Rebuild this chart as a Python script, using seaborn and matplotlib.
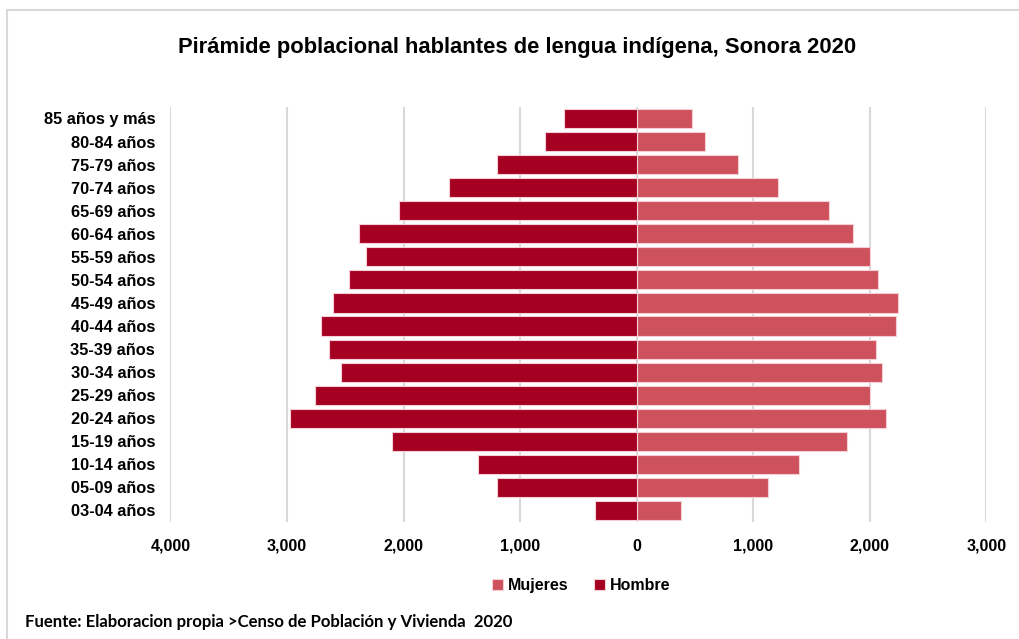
import pandas as pd
import matplotlib.pyplot as plt
import seaborn as sns
from matplotlib.lines import Line2D
from matplotlib.ticker import FuncFormatter

edades = ['85 años y más', '80-84 años', '75-79 años', '70-74 años', '65-69 años',
          '60-64 años', '55-59 años', '50-54 años', '45-49 años', '40-44 años',
          '35-39 años', '30-34 años', '25-29 años', '20-24 años', '15-19 años',
          '10-14 años', '05-09 años', '03-04 años']
hombre = [620, 785, 1197, 1607, 2041, 2382, 2322, 2465, 2603, 2708,
          2639, 2534, 2760, 2972, 2101, 1358, 1197, 362]
mujeres = [474, 588, 865, 1212, 1650, 1858, 2004, 2070, 2245, 2222,
           2056, 2101, 1998, 2139, 1807, 1395, 1123, 376]

df = pd.concat([
    pd.DataFrame({'edad': edades, 'valor': mujeres, 'sexo': 'Mujeres'}),
    pd.DataFrame({'edad': edades, 'valor': [-v for v in hombre], 'sexo': 'Hombre'}),
])

sns.set_style('white')
plt.rcParams['font.family'] = ['Liberation Sans', 'DejaVu Sans']
plt.rcParams['text.color'] = 'black'
plt.rcParams['xtick.color'] = 'black'
plt.rcParams['ytick.color'] = 'black'

fig = plt.figure(figsize=(10.19, 6.39), dpi=100)
ax = fig.add_axes([0.1673, 0.1831, 0.8008, 0.6495])

sns.barplot(data=df, y='edad', x='valor', hue='sexo', order=edades,
            hue_order=['Mujeres', 'Hombre'], dodge=False, orient='h',
            palette={'Mujeres': '#CD525D', 'Hombre': '#A50021'}, saturation=1,
            width=0.83, edgecolor='#F4D0D4', linewidth=0.8, ax=ax, zorder=3)

ax.set_xlim(-4000, 3000)
ax.set_xticks(range(-4000, 3001, 1000))
ax.xaxis.set_major_formatter(FuncFormatter(lambda v, p: f'{abs(int(v)):,}'))
ax.grid(axis='x', color='#D9D9D9', linewidth=1.5, zorder=0)
ax.set_axisbelow(True)
ax.set(xlabel='', ylabel='')
sns.despine(ax=ax, left=True, bottom=True)
ax.tick_params(axis='x', length=0, labelsize=11.5, pad=12)
ax.tick_params(axis='y', length=0, labelsize=11.8, pad=11)
for lbl in ax.get_xticklabels() + ax.get_yticklabels():
    lbl.set_fontweight('bold')

handles, labels = ax.get_legend_handles_labels()
ax.get_legend().remove()
fig.legend(handles, labels, loc='center', bbox_to_anchor=(0.57, 0.083), ncol=2,
           frameon=False, handlelength=0.7, handleheight=0.7, handletextpad=0.3,
           columnspacing=1.6, prop={'size': 11.5, 'weight': 'bold'})

fig.text(0.507, 0.925, 'Pirámide poblacional hablantes de lengua indígena, Sonora 2020',
         ha='center', va='center', fontsize=15.8, fontweight='bold')
fig.text(0.025, 0.026, 'Fuente: Elaboracion propia >Censo de Población y Vivienda  2020',
         ha='left', va='center', fontsize=12.1, fontweight='bold',
         family=['Lato', 'DejaVu Sans'])

# outer chart frame (top and left edges visible)
fig.add_artist(Line2D([0.007, 0.007], [0.0, 0.984], color='#D9D9D9', lw=1.5))
fig.add_artist(Line2D([0.007, 1.0], [0.984, 0.984], color='#D9D9D9', lw=1.5))

fig.savefig('out.png', dpi=100)
